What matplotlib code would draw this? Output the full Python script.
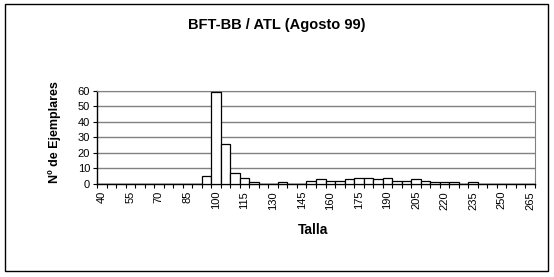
import matplotlib
matplotlib.use("Agg")
from matplotlib import pyplot as plt
from matplotlib.patches import Rectangle

tallas = list(range(40, 270, 5))
ejemplares = [0, 0, 0, 0, 0, 0, 0, 0, 0, 0, 0,
              5, 59, 26, 7, 4, 1, 0, 0, 1, 0, 0,
              2, 3, 2, 2, 3, 4, 4, 3, 4, 2, 2, 3, 2, 1, 1, 1, 0, 1,
              0, 0, 0, 0, 0, 0]
titulo = "BFT-BB / ATL (Agosto 99)"

plt.rcParams['font.family'] = ['Liberation Sans', 'DejaVu Sans']

fig = plt.figure(figsize=(5.54, 2.77), dpi=100)
fig.patch.set_facecolor('white')
# marco exterior del grafico
fig.patches.append(Rectangle((5/554, 6/277), 543/554, 267/277, transform=fig.transFigure,
                             fill=False, edgecolor='black', linewidth=1.0))

ax = fig.add_axes([97/554, 1 - 184/277, 438/554, 93.3/277])
x = list(range(len(tallas)))
ax.bar(x, ejemplares, width=1.0, color='white', edgecolor='black', linewidth=0.9, zorder=3)

ax.set_xlim(-0.5, len(tallas) - 0.5)
ax.set_ylim(0, 60)
ax.set_yticks(range(0, 61, 10))
ax.yaxis.grid(True, color='#808080', linewidth=1.0, zorder=0)
ax.set_xticks(x[::3])
ax.set_xticklabels([str(t) for t in tallas[::3]], rotation=90, fontsize=8)
ax.set_xticks([i - 0.5 for i in range(len(tallas) + 1)], minor=True)
ax.tick_params(axis='x', which='major', length=0, pad=5)
ax.tick_params(axis='x', which='minor', length=3, width=0.8, direction='out')
ax.tick_params(axis='y', length=3, width=0.8, labelsize=8, pad=2)

for s in ['top', 'right']:
    ax.spines[s].set_color('#808080')
ax.spines['left'].set_linewidth(1.0)
ax.spines['bottom'].set_linewidth(1.0)

fig.text(277/554, 1 - 25/277, titulo, ha='center', va='center', fontsize=10.5, fontweight='bold')
fig.text(313/554, 1 - 230/277, "Talla", ha='center', va='center', fontsize=10, fontweight='bold')
fig.text(55/554, 1 - 132/277, "Nº de Ejemplares", ha='center', va='center', rotation=90,
         fontsize=9, fontweight='bold')

fig.savefig("out.png", dpi=100)
